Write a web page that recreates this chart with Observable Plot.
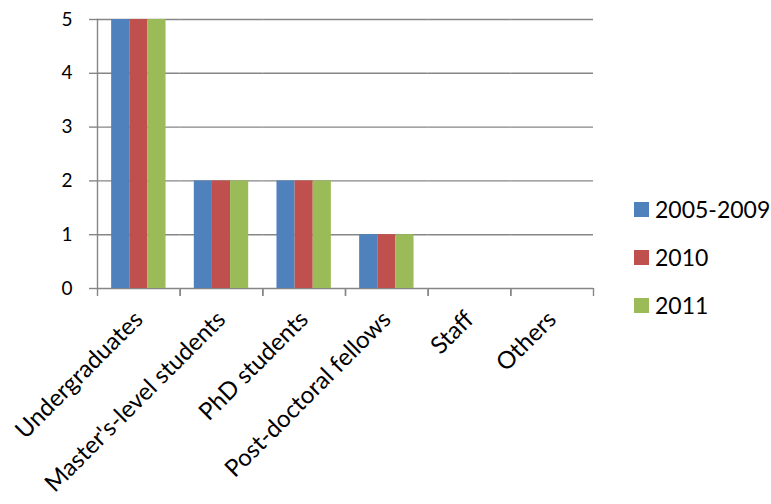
<!DOCTYPE html>
<html><head><meta charset="utf-8">
<script src="https://cdn.jsdelivr.net/npm/d3@7"></script>
<script src="https://cdn.jsdelivr.net/npm/@observablehq/plot@0.6"></script>
<style>
body{margin:0;background:#fff;font-family:Lato, "Noto Sans", sans-serif;}
#wrap{position:relative;width:771px;height:504px;overflow:hidden;}
#legend{position:absolute;left:634px;top:185px;font-size:23px;color:#000;}
.item{display:flex;align-items:center;height:48px;}
.sw{width:15px;height:15px;margin-right:6px;}
</style></head><body>
<div id="wrap"><div id="chart"></div><div id="legend"></div></div>
<script>
const categories = ["Undergraduates","Master's-level students","PhD students","Post-doctoral fellows","Staff","Others"];
const seriesNames = ["2005-2009","2010","2011"];
const values2005_2009 = [5,2,2,1,0,0];
const values2010 = [5,2,2,1,0,0];
const values2011 = [5,2,2,1,0,0];
const colors = ["#4F81BD","#C0504D","#9BBB59"];
const yTicks = [0,1,2,3,4,5];

const seriesValues = [values2005_2009, values2010, values2011];
const data = [];
categories.forEach((c, i) => seriesNames.forEach((s, j) => data.push({category: c, series: s, value: seriesValues[j][i]})));

const W = 771, H = 504, ML = 97, MR = 178, MT = 19, MB = 216;
const step = (W - ML - MR) / categories.length;
const gray = "#868686";

const chart = Plot.plot({
  width: W, height: H,
  marginLeft: ML, marginRight: MR, marginTop: MT, marginBottom: MB,
  style: {fontFamily: "Lato, 'Noto Sans', sans-serif", fontSize: "20px", color: "#000", background: "#fff", overflow: "visible"},
  fx: {domain: categories, padding: 0, round: false, label: null},
  x: {domain: seriesNames, paddingInner: 0, paddingOuter: 0.78, round: false, axis: null},
  y: {domain: [0, 5], label: null},
  color: {domain: seriesNames, range: colors},
  marks: [
    Plot.gridY(yTicks, {stroke: gray, strokeOpacity: 1, strokeWidth: 1.4}),
    Plot.barY(data, {fx: "category", x: "series", y: "value", fill: "series"}),
    Plot.axisY(yTicks, {tickSize: 8, tickPadding: 17, stroke: gray, strokeWidth: 1.4, fill: "#000", fontSize: 19, label: null, tickFormat: d => String(d)}),
    Plot.frame({anchor: "left", facetAnchor: "left", stroke: gray, strokeWidth: 1.4}),
    Plot.axisFx({anchor: "bottom", tickSize: 0, tickPadding: 27, dx: 0, tickRotate: -45, fill: "#000", fontSize: 24, label: null}),
    Plot.axisFx({anchor: "bottom", text: null, tickSize: 8, dx: -step / 2, stroke: gray, strokeWidth: 1.4, label: null}),
    Plot.axisFx([categories[categories.length - 1]], {anchor: "bottom", text: null, tickSize: 8, dx: step / 2, stroke: gray, strokeWidth: 1.4, label: null})
  ]
});
document.getElementById("chart").appendChild(chart);

const legend = document.getElementById("legend");
seriesNames.forEach((s, i) => {
  const item = document.createElement("div");
  item.className = "item";
  const sw = document.createElement("span");
  sw.className = "sw";
  sw.style.background = colors[i];
  const t = document.createElement("span");
  t.textContent = s;
  item.appendChild(sw); item.appendChild(t);
  legend.appendChild(item);
});
</script>
</body></html>
